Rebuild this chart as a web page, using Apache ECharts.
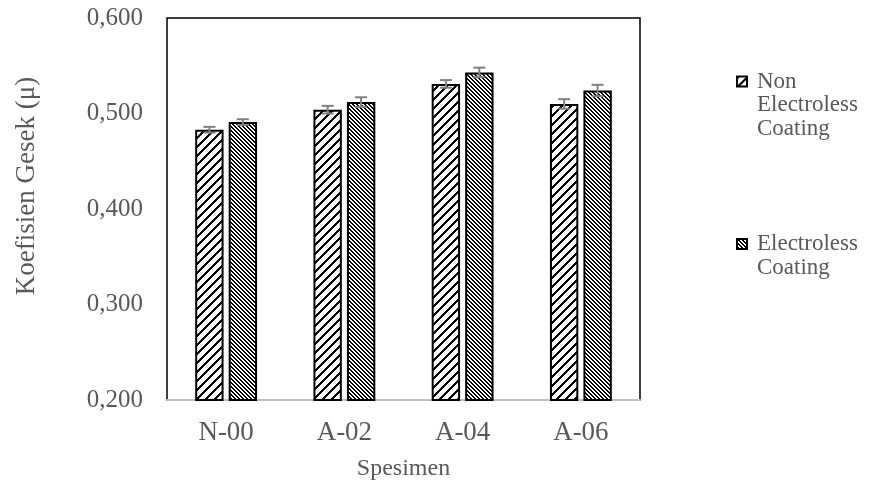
<!DOCTYPE html>
<html>
<head>
<meta charset="utf-8">
<script src="https://cdn.jsdelivr.net/npm/echarts@6/dist/echarts.min.js"></script>
<style>
  html, body { margin: 0; padding: 0; background: #fff; }
  #chart { width: 871px; height: 486px; }
</style>
</head>
<body>
<div id="chart"></div>
<script>
const categories = ["N-00", "A-02", "A-04", "A-06"];
const seriesNames = ["Non Electroless Coating", "Electroless Coating"];
const nonElectroless = [0.483, 0.504, 0.531, 0.510];
const nonElectrolessErr = [0.003, 0.004, 0.004, 0.005];
const electroless = [0.491, 0.512, 0.543, 0.524];
const electrolessErr = [0.003, 0.005, 0.005, 0.006];
const yTicks = [0.2, 0.3, 0.4, 0.5, 0.6];

const FONT = "'Liberation Serif', 'Times New Roman', serif";
const TEXT = "#595959";
const LEG_LH = 23.5;

// hatch tiles, drawn pixel by pixel
function hatch(size, thick, upward) {
  const c = document.createElement("canvas");
  c.width = size; c.height = size;
  const ctx = c.getContext("2d");
  const img = ctx.createImageData(size, size);
  for (let y = 0; y < size; y++) {
    for (let x = 0; x < size; x++) {
      const k = upward ? (x + y) % size : ((x - y) % size + size) % size;
      const v = k < thick ? 0 : 255;
      const i = (y * size + x) * 4;
      img.data[i] = v; img.data[i + 1] = v; img.data[i + 2] = v; img.data[i + 3] = 255;
    }
  }
  ctx.putImageData(img, 0, 0);
  return c;
}

const patternNon = { image: hatch(9, 3, true), repeat: "repeat" };
const patternEl = { image: hatch(4, 2, false), repeat: "repeat" };

const BAR_W = 0.24;   // share of band
const BAR_GAP = 5;    // px

function errorSeries(values, errs, side) {
  return {
    type: "custom",
    silent: true,
    z: 5,
    data: values.map((v, i) => [i, v, errs[i]]),
    renderItem: function (params, api) {
      const i = api.value(0);
      const band = api.size([1, 0])[0];
      const bw = band * BAR_W;
      const off = side * (bw + BAR_GAP) / 2;
      const hi = api.coord([i, api.value(1) + api.value(2)]);
      const lo = api.coord([i, api.value(1) - api.value(2)]);
      const x = hi[0] + off;
      const st = { stroke: "#808080", lineWidth: 2 };
      return {
        type: "group",
        children: [
          { type: "line", shape: { x1: x, y1: hi[1], x2: x, y2: lo[1] }, style: st },
          { type: "line", shape: { x1: x - 6, y1: hi[1], x2: x + 6, y2: hi[1] }, style: st },
          { type: "line", shape: { x1: x - 6, y1: lo[1], x2: x + 6, y2: lo[1] }, style: st }
        ]
      };
    }
  };
}

// legend text: leading blank lines keep the icon beside the first line
function legendText(lines) {
  return "\n".repeat(lines.length - 1) + lines.join("\n");
}

function legendFor(name, lines, firstLineY) {
  return {
    data: [name],
    left: 736,
    top: firstLineY - (2 * lines.length - 1) * LEG_LH / 2,
    padding: 0,
    icon: "rect", itemWidth: 10, itemHeight: 10,
    formatter: () => legendText(lines),
    textStyle: { fontFamily: FONT, fontSize: 23, color: TEXT, lineHeight: LEG_LH, padding: [0, 0, 0, 5] }
  };
}

const chart = echarts.init(document.getElementById("chart"));
chart.setOption({
  animation: false,
  textStyle: { fontFamily: FONT },
  grid: {
    left: 167, right: 231, top: 18, bottom: 84,
    show: true, borderColor: "#000", borderWidth: 1.5, backgroundColor: "#fff"
  },
  legend: [
    legendFor(seriesNames[0], ["Non", "Electroless", "Coating"], 81.5),
    legendFor(seriesNames[1], ["Electroless", "Coating"], 244)
  ],
  xAxis: {
    type: "category",
    data: categories,
    name: "Spesimen",
    nameLocation: "middle",
    nameGap: 57,
    nameTextStyle: { fontFamily: FONT, fontSize: 24, color: TEXT },
    axisLine: { lineStyle: { color: "#bfbfbf", width: 2 } },
    axisTick: { show: false },
    axisLabel: { fontFamily: FONT, fontSize: 27, color: TEXT, margin: 19 }
  },
  yAxis: {
    type: "value",
    min: yTicks[0],
    max: yTicks[yTicks.length - 1],
    interval: 0.1,
    name: "Koefisien Gesek (μ)",
    nameLocation: "middle",
    nameGap: 127,
    nameTextStyle: { fontFamily: FONT, fontSize: 27, color: TEXT, padding: [0, 0, 0, 46] },
    axisLine: { show: false },
    axisTick: { show: false },
    splitLine: { show: false },
    axisLabel: {
      fontFamily: FONT, fontSize: 25, color: TEXT, margin: 24,
      formatter: v => v.toFixed(3).replace(".", ",")
    }
  },
  series: [
    {
      name: seriesNames[0],
      type: "bar",
      data: nonElectroless,
      barWidth: (BAR_W * 100) + "%",
      barGap: "18%",
      itemStyle: { color: patternNon, borderColor: "#000", borderWidth: 2 }
    },
    {
      name: seriesNames[1],
      type: "bar",
      data: electroless,
      barWidth: (BAR_W * 100) + "%",
      itemStyle: { color: patternEl, borderColor: "#000", borderWidth: 2 }
    },
    errorSeries(nonElectroless, nonElectrolessErr, -1),
    errorSeries(electroless, electrolessErr, 1)
  ]
});
</script>
</body>
</html>
